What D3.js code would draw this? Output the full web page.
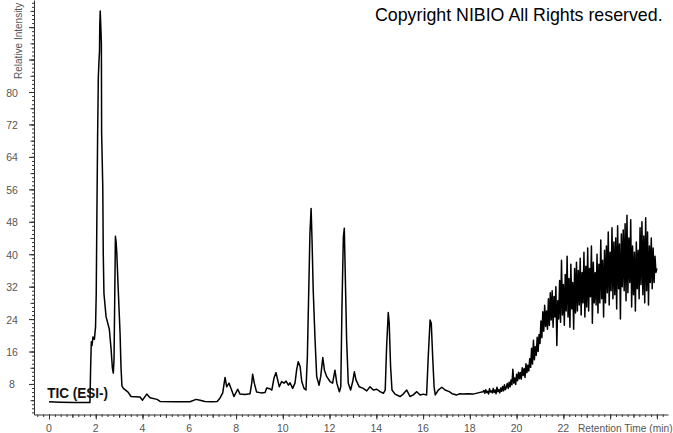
<!DOCTYPE html>
<html><head><meta charset="utf-8">
<script src="https://cdn.jsdelivr.net/npm/d3@7"></script>
<style>body{margin:0;background:#fff}svg{display:block}text{font-family:"Liberation Sans",Arial,sans-serif}</style>
</head><body><svg id="c" width="673" height="433"></svg>
<script>
// Hand-traced chromatogram: 0 - 18.6 min
const earlyTime=[0,0.47,1.11,1.75,1.78,1.81,1.84,1.88,1.94,1.99,2.02,2.05,2.08,2.11,2.14,2.16,2.17,2.19,2.21,2.24,2.25,2.3,2.32,2.35,2.44,2.49,2.58,2.65,2.71,2.75,2.78,2.81,2.84,2.87,2.9,2.95,3.04,3.08,3.12,3.18,3.38,3.51,3.89,4.0,4.18,4.32,4.62,4.75,5.39,6.03,6.29,6.46,6.67,6.97,7.19,7.31,7.43,7.53,7.6,7.7,7.81,7.91,8.07,8.17,8.38,8.6,8.67,8.71,8.78,8.88,9.07,9.24,9.31,9.45,9.53,9.62,9.71,9.78,9.85,9.95,10.05,10.14,10.24,10.31,10.42,10.52,10.59,10.66,10.74,10.81,10.91,10.99,11.05,11.11,11.16,11.21,11.25,11.3,11.38,11.45,11.55,11.62,11.71,11.78,11.88,12.02,12.13,12.23,12.31,12.42,12.48,12.53,12.59,12.63,12.67,12.73,12.8,12.9,12.99,13.06,13.13,13.27,13.44,13.59,13.73,13.87,14.02,14.16,14.3,14.38,14.44,14.51,14.55,14.61,14.67,14.8,15.01,15.15,15.3,15.44,15.58,15.73,15.87,16.01,16.15,16.22,16.3,16.35,16.41,16.47,16.52,16.65,16.8,16.94,17.12,17.24,17.44,17.58,17.71,17.92,18.14,18.35,18.56];
const earlyIntensity=[3.6,3.5,3.4,3.4,12,18.4,17.5,19.6,19,22,30.3,51,69.8,83.8,88,90,96,100,97,92,70,56.6,40.2,30.3,24.6,23.5,21.5,17,12,10.7,14,28.7,44.4,43,40.2,32.8,20.4,12,7.5,6.9,6.0,4.9,4.8,4.0,5.5,4.6,4.2,3.7,3.6,3.6,4.2,4.0,3.7,3.6,3.7,4.5,5.8,9.6,7.3,8.2,6.5,4.9,6.7,5.5,5.4,5.6,8.2,10.4,8.2,6.0,5.8,5.9,7.0,6.8,6.5,9.4,10.8,9.0,7.3,8.6,8.2,8.7,7.7,8.3,6.9,8.2,11.4,13.5,12.3,8.6,6.9,6.5,14.7,31.2,45.1,51.3,43.5,31.2,18.8,9.8,7.7,9.8,14.5,11.4,9.8,8.6,8.2,11.4,8.2,6.1,7.3,27,44.3,46.4,35.3,18.8,8.2,6.5,8.6,11,9.0,7.3,6.9,6.3,7.3,6.5,6.7,6.1,5.7,6.5,17.2,25.6,23,12.3,6.5,5.5,4.9,5.5,6.5,4.9,5.3,6.1,5.3,5.5,5.3,14.7,23.8,23,14.7,7.3,5.3,6.5,7.2,6.5,6.1,5.6,5.3,5.6,5.5,5.6,5.5,5.8,6.1];
// Hand-read noisy gradient region: 18.6 - 26 min
const lateTime=[18.6,18.64,18.68,18.72,18.76,18.8,18.84,18.88,18.92,18.96,
19,19.04,19.08,19.12,19.16,19.2,19.24,19.28,19.32,19.36,
19.4,19.44,19.48,19.52,19.56,19.6,19.64,19.68,19.72,19.76,
19.8,19.84,19.88,19.92,19.96,20,20.04,20.08,20.12,20.16,
20.2,20.24,20.28,20.32,20.36,20.4,20.44,20.48,20.52,20.56,
20.6,20.64,20.68,20.72,20.76,20.8,20.84,20.88,20.92,20.96,
21,21.04,21.08,21.12,21.16,21.2,21.24,21.28,21.32,21.36,
21.4,21.44,21.48,21.52,21.56,21.6,21.64,21.68,21.72,21.76,
21.8,21.84,21.88,21.92,21.96,22,22.04,22.08,22.12,22.16,
22.2,22.24,22.28,22.32,22.36,22.4,22.44,22.48,22.52,22.56,
22.6,22.64,22.68,22.72,22.76,22.8,22.84,22.88,22.92,22.96,
23,23.04,23.08,23.12,23.16,23.2,23.24,23.28,23.32,23.36,
23.4,23.44,23.48,23.52,23.56,23.6,23.64,23.68,23.72,23.76,
23.8,23.84,23.88,23.92,23.96,24,24.04,24.08,24.12,24.16,
24.2,24.24,24.28,24.32,24.36,24.4,24.44,24.48,24.52,24.56,
24.6,24.64,24.68,24.72,24.76,24.8,24.84,24.88,24.92,24.96,
25,25.04,25.08,25.12,25.16,25.2,25.24,25.28,25.32,25.36,
25.4,25.44,25.48,25.52,25.56,25.6,25.64,25.68,25.72,25.76,
25.8,25.84,25.88,25.92,25.96,26];
const lateIntensity=[6.4,5.7,6.6,5.9,6.2,5.5,6.8,6.0,6.3,5.8,
6.9,5.9,6.5,5.6,7.2,6.1,6.6,5.8,7.0,6.2,
7.4,6.3,7.8,6.6,7.2,8.1,6.9,8.4,7.3,9.0,
7.8,11.6,8.2,9.5,7.9,10.4,8.8,10.9,9.3,10.8,
9.2,12.0,10.1,11.8,9.6,13.0,10.8,12.6,11.2,14.2,
12.1,16.8,12.9,18.8,14.0,17.2,15.1,19.5,16.0,20.2,
18.0,23.5,19.4,25.8,21.0,27.4,22.2,26.0,21.5,29.0,
22.4,30.5,23.8,31.0,22.0,29.6,24.5,32.0,17.5,28.5,
24.0,33.5,23.2,38.5,25.0,32.5,22.5,35.0,26.0,39.5,
24.5,34.0,22.0,37.5,26.5,33.0,21.5,36.5,25.5,38.0,
26.0,36.0,27.5,39.0,25.0,35.5,28.0,40.5,24.5,37.0,
27.0,41.5,26.0,36.5,29.5,42.0,23.0,38.0,28.0,35.5,
27.5,40.0,25.5,37.5,28.0,43.5,29.0,38.5,24.5,41.0,
28.0,42.0,30.5,45.5,27.5,40.5,31.0,46.5,29.0,43.0,
30.0,44.0,26.5,47.0,31.5,42.5,24.0,45.0,32.0,46.0,
31.0,47.5,28.5,49.6,30.5,44.0,33.0,48.5,27.0,42.0,
30.0,40.5,26.0,43.0,31.5,41.0,29.0,46.5,32.5,48.0,
30.0,44.5,28.0,49.0,31.0,45.5,27.5,42.0,33.0,44.0,
31.5,41.5,33.0,39.5,35.5,36.5];
const xTickLabels=[0,2,4,6,8,10,12,14,16,18,20,22];
const yTickLabels=[8,16,24,32,40,48,56,64,72,80];
const xTitle="Retention Time (min)";
const yTitle="Relative Intensity";
const traceLabel="TIC (ESI-)";
const copyright="Copyright NIBIO All Rights reserved.";

const svg=d3.select("#c");
const x=d3.scaleLinear().domain([-0.642,26.475]).range([34,668]);
const y=d3.scaleLinear().domain([0.47,102.69]).range([414.5,0]);
const axisColor="#333", labelColor="#555";

// Trace
const pts=earlyTime.map((t,i)=>[t,earlyIntensity[i]]).concat(lateTime.map((t,i)=>[t,lateIntensity[i]]));
svg.append("path").datum(pts)
  .attr("fill","none").attr("stroke","#000").attr("stroke-width",1.5).attr("stroke-linejoin","round")
  .attr("d",d3.line().x(d=>x(d[0])).y(d=>y(d[1])));

// Y axis
function yAxis(vals,size,domain){
  const g=svg.append("g").attr("transform","translate(34,0)")
    .call(d3.axisLeft(y).tickValues(vals).tickSize(size).tickSizeOuter(0).tickFormat(""));
  g.selectAll("line").attr("stroke",axisColor);
  g.select(".domain").attr("stroke",axisColor).attr("display",domain?null:"none");
}
yAxis(d3.range(1,103),2,true);
yAxis(d3.range(4,103,4),3.5,false);
yAxis(d3.range(8,103,8),5,false);
svg.append("g").selectAll("text").data(yTickLabels).join("text")
  .attr("x",12).attr("y",d=>y(d)+4.5).attr("text-anchor","middle")
  .attr("font-size",10.5).attr("fill",labelColor).text(d=>d);

// X axis
function xAxis(vals,size,domain){
  const g=svg.append("g").attr("transform","translate(0,414.5)")
    .call(d3.axisBottom(x).tickValues(vals).tickSize(size).tickSizeOuter(0).tickFormat(""));
  g.selectAll("line").attr("stroke",axisColor);
  g.select(".domain").attr("stroke",axisColor).attr("display",domain?null:"none");
}
xAxis(d3.range(-0.5,26.5,0.25),2.5,true);
xAxis(d3.range(0,27,1),3.5,false);
xAxis(d3.range(0,27,2),5,false);
svg.append("g").selectAll("text").data(xTickLabels).join("text")
  .attr("x",d=>x(d)).attr("y",432).attr("text-anchor","middle")
  .attr("font-size",10.5).attr("fill",labelColor).text(d=>d);

// Titles
svg.append("text").attr("x",578).attr("y",432).attr("font-size",10.2).attr("fill",labelColor).text(xTitle);
svg.append("text").attr("transform","translate(21.5,79) rotate(-90)").attr("font-size",10).attr("fill",labelColor).text(yTitle);
svg.append("text").attr("x",x(-0.08)).attr("y",397.5).attr("font-size",14).attr("font-weight","bold")
  .attr("fill","#111").attr("textLength",61).attr("lengthAdjust","spacingAndGlyphs").text(traceLabel);
svg.append("text").attr("x",375).attr("y",21).attr("font-size",17.8).attr("fill","#000").text(copyright);
</script></body></html>
